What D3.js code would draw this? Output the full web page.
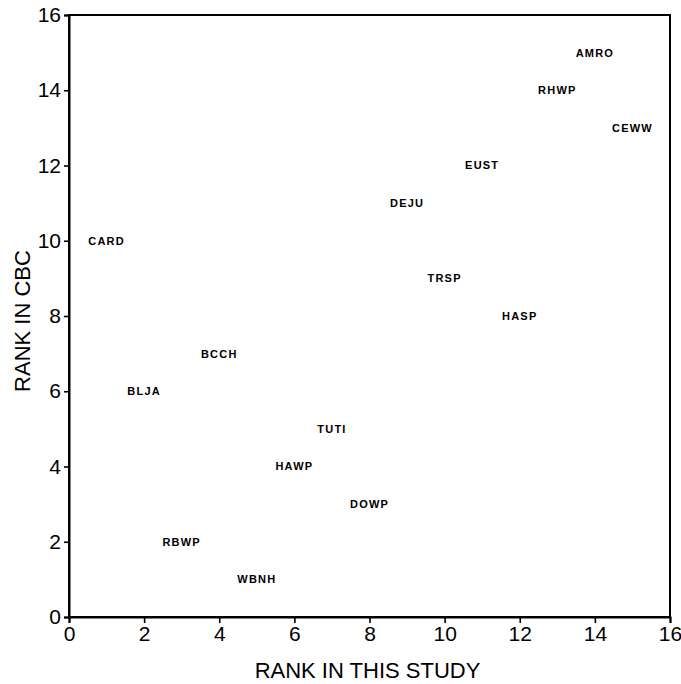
<!DOCTYPE html>
<html><head><meta charset="utf-8">
<script src="https://cdn.jsdelivr.net/npm/d3@7"></script>
<style>body{margin:0;background:#fff;}</style>
</head><body>
<svg id="c" width="681" height="684"></svg>
<script>
const species = ["AMRO","RHWP","CEWW","EUST","DEJU","CARD","TRSP","HASP","BCCH","BLJA","TUTI","HAWP","DOWP","RBWP","WBNH"];
const rankStudy = [14,13,15,11,9,1,10,12,4,2,7,6,8,3,5];
const rankCBC = [15,14,13,12,11,10,9,8,7,6,5,4,3,2,1];
const tickValues = [0,2,4,6,8,10,12,14,16];

const svg = d3.select("#c");
const x = d3.scaleLinear().domain([0,16]).range([69,670]);
const y = d3.scaleLinear().domain([0,16]).range([617,15]);
const font = "'Liberation Sans', Arial, Helvetica, sans-serif";

// frame
svg.append("rect").attr("x",x(0)).attr("y",y(16)).attr("width",x(16)-x(0)).attr("height",y(0)-y(16))
  .attr("fill","none").attr("stroke","#000").attr("stroke-width",2);

const xAxis = svg.append("g").attr("transform",`translate(0,${y(0)})`)
  .call(d3.axisBottom(x).tickValues(tickValues).tickSize(6).tickPadding(3));
const yAxis = svg.append("g").attr("transform",`translate(${x(0)},0)`)
  .call(d3.axisLeft(y).tickValues(tickValues).tickSize(5).tickPadding(3));
[xAxis,yAxis].forEach(g=>{
  g.select(".domain").attr("stroke","#000").attr("stroke-width",2);
  g.selectAll(".tick line").attr("stroke","#000").attr("stroke-width",1.6);
  g.selectAll(".tick text").attr("font-family",font).attr("font-size",21).attr("fill","#000");
});

svg.append("g").selectAll("text").data(species).join("text")
  .attr("x",(d,i)=>x(rankStudy[i]))
  .attr("y",(d,i)=>y(rankCBC[i]))
  .attr("dy","0.36em")
  .attr("text-anchor","middle")
  .attr("font-family",font).attr("font-weight","bold").attr("font-size",11)
  .attr("letter-spacing","1.2px")
  .text(d=>d);

svg.append("text").attr("x",(x(0)+x(16))/2 - 2).attr("y",678).attr("text-anchor","middle")
  .attr("font-family",font).attr("font-size",22).text("RANK IN THIS STUDY");
svg.append("text").attr("transform",`translate(30,${(y(0)+y(16))/2 + 5}) rotate(-90)`)
  .attr("text-anchor","middle").attr("font-family",font).attr("font-size",22).text("RANK IN CBC");
</script>
</body></html>
